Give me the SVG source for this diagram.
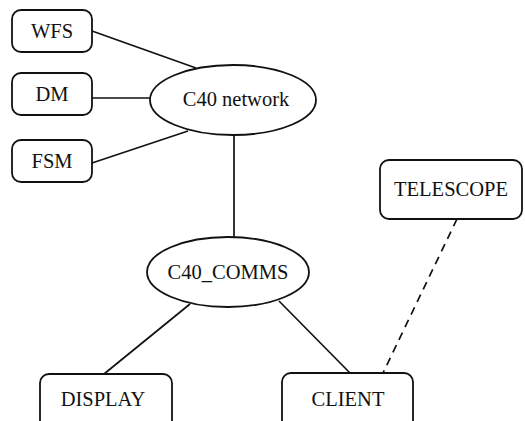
<svg xmlns="http://www.w3.org/2000/svg" width="525" height="421" viewBox="0 0 525 421">
<style>
.n{fill:#fff;stroke:#111;stroke-width:1.8}
.t{font-family:"Liberation Serif",serif;font-size:20.5px;fill:#111;text-anchor:middle}
.c{stroke:#111;stroke-width:1.7;fill:none}
.d{stroke-dasharray:8,6}
</style>
<rect width="525" height="421" fill="#fff"/>
<g id="connectors">
<line class="c" x1="92" y1="31" x2="196" y2="68"/>
<line class="c" x1="92" y1="98" x2="150" y2="98"/>
<line class="c" x1="92" y1="163" x2="188" y2="131"/>
<line class="c" x1="234" y1="135" x2="234" y2="237"/>
<line class="c" x1="190" y1="304" x2="104" y2="374"/>
<line class="c" x1="279" y1="301" x2="350" y2="373"/>
<line class="c d" x1="457" y1="219" x2="383" y2="373"/>
</g>
<g id="wfs"><rect class="n" x="12" y="10" width="80" height="42" rx="9"/><text class="t" x="52" y="38">WFS</text></g>
<g id="dm"><rect class="n" x="12" y="73" width="80" height="42" rx="9"/><text class="t" x="52" y="101">DM</text></g>
<g id="fsm"><rect class="n" x="12" y="140" width="80" height="42" rx="9"/><text class="t" x="52" y="168">FSM</text></g>
<g id="c40network"><ellipse class="n" cx="233" cy="100" rx="83" ry="35"/><text class="t" x="236" y="106">C40 network</text></g>
<g id="telescope"><rect class="n" x="380" y="160" width="142" height="59" rx="9"/><text class="t" x="451" y="196">TELESCOPE</text></g>
<g id="c40comms"><ellipse class="n" cx="228" cy="272" rx="81" ry="35"/><text class="t" x="228" y="279">C40_COMMS</text></g>
<g id="display"><rect class="n" x="40" y="374" width="132" height="60" rx="9"/><text class="t" x="103" y="406">DISPLAY</text></g>
<g id="client"><rect class="n" x="282" y="373" width="131" height="60" rx="9"/><text class="t" x="348" y="406">CLIENT</text></g>
</svg>
